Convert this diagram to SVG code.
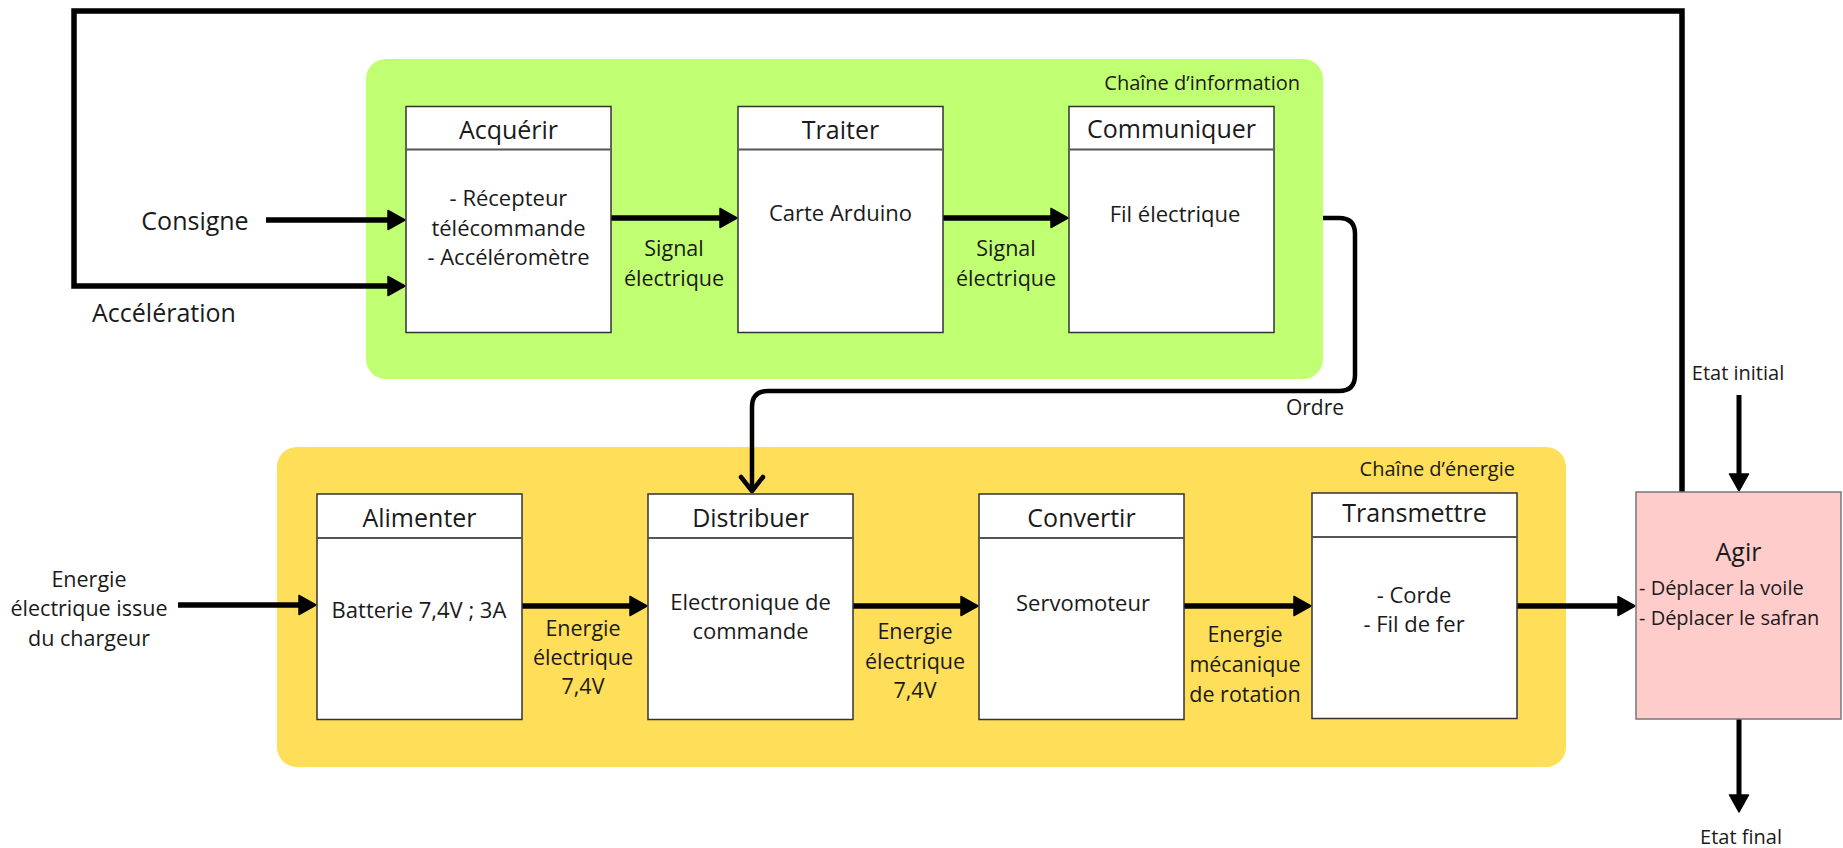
<svg xmlns="http://www.w3.org/2000/svg" width="1843" height="848" viewBox="0 0 1843 848">
  <style>
    text { font-family: "Open Sans", "DejaVu Sans", sans-serif; fill: #1a1a1a; dominant-baseline: central; text-anchor: middle; }
    .title { font-size: 25px; }
    .body { font-size: 22px; }
    .lbl { font-size: 21.5px; }
    .small { font-size: 20px; }
    .big { font-size: 25px; }
    .box { fill: #ffffff; stroke: #333333; stroke-width: 1.5; }
    .div { stroke: #555555; stroke-width: 2; }
    .flow { fill: none; stroke: #000000; stroke-width: 5.5; marker-end: url(#head); }
    .thin { fill: none; stroke: #000000; stroke-width: 4.5; }
  </style>
  <defs>
    <marker id="head" markerUnits="userSpaceOnUse" viewBox="0 0 19 22" markerWidth="19" markerHeight="22" refX="1" refY="11" orient="auto">
      <path d="M1,1.5 L18,11 L1,20.5 Z" fill="#000000" stroke="#000000" stroke-width="1.5" stroke-linejoin="round"/>
    </marker>
    <marker id="chevron" markerUnits="userSpaceOnUse" viewBox="-18 -15 22 30" markerWidth="22" markerHeight="30" refX="0" refY="0" orient="auto">
      <path d="M-14,-11 L0,0 L-14,11" fill="none" stroke="#000000" stroke-width="4.5" stroke-linecap="round" stroke-linejoin="round"/>
    </marker>
  </defs>

  <rect width="1843" height="848" fill="#ffffff"/>

  <!-- chain containers -->
  <g id="chaine-information">
    <rect x="366" y="59" width="957" height="320" rx="20" fill="#c1ff72"/>
    <text class="small" x="1300" y="82" style="text-anchor:end">Chaîne d’information</text>
  </g>
  <g id="chaine-energie">
    <rect x="277" y="447" width="1289" height="320" rx="20" fill="#ffde59"/>
    <text class="small" x="1515" y="468" style="text-anchor:end">Chaîne d’énergie</text>
  </g>

  <!-- connectors -->
  <g id="connectors">
    <!-- feedback loop from Agir back to Acquérir -->
    <path class="flow" d="M1682,492 V11 H74 V286 H388"/>
    <path class="flow" d="M266,220 H388"/>
    <path class="flow" d="M611,218 H720"/>
    <path class="flow" d="M943,218 H1051"/>
    <!-- order from the information chain to Distribuer -->
    <path class="thin" d="M1323,218 H1339 Q1355,218 1355,234 V375 Q1355,391 1339,391 H768 Q752,391 752,407 V491" marker-end="url(#chevron)"/>
    <path class="flow" d="M178,605 H299"/>
    <path class="flow" d="M522,606 H630"/>
    <path class="flow" d="M853,606 H961"/>
    <path class="flow" d="M1184,606 H1294"/>
    <path class="flow" d="M1517,606 H1618"/>
    <path class="flow" d="M1739,395 V474" style="stroke-width:5"/>
    <path class="flow" d="M1739,719 V795" style="stroke-width:5"/>
  </g>

  <!-- free labels -->
  <g id="labels">
    <text class="big" x="195" y="220">Consigne</text>
    <text class="big" x="164" y="312">Accélération</text>
    <text class="lbl" x="674" y="247">Signal</text>
    <text class="lbl" x="674" y="277">électrique</text>
    <text class="lbl" x="1006" y="247">Signal</text>
    <text class="lbl" x="1006" y="277">électrique</text>
    <text class="small" x="1315" y="407" style="font-size:21px">Ordre</text>
    <text class="lbl" x="89" y="578">Energie</text>
    <text class="lbl" x="89" y="607">électrique issue</text>
    <text class="lbl" x="89" y="637">du chargeur</text>
    <text class="lbl" x="583" y="627">Energie</text>
    <text class="lbl" x="583" y="656">électrique</text>
    <text class="lbl" x="583" y="685">7,4V</text>
    <text class="lbl" x="915" y="630">Energie</text>
    <text class="lbl" x="915" y="660">électrique</text>
    <text class="lbl" x="915" y="689">7,4V</text>
    <text class="lbl" x="1245" y="633">Energie</text>
    <text class="lbl" x="1245" y="663">mécanique</text>
    <text class="lbl" x="1245" y="693">de rotation</text>
    <text class="small" x="1738" y="372">Etat initial</text>
    <text class="small" x="1741" y="836">Etat final</text>
  </g>

  <!-- information chain blocks -->
  <g id="acquerir">
    <rect class="box" x="406" y="106.5" width="205" height="226"/>
    <line class="div" x1="406" y1="149.5" x2="611" y2="149.5"/>
    <text class="title" x="508.5" y="129">Acquérir</text>
    <text class="body" x="508.5" y="197">- Récepteur</text>
    <text class="body" x="508.5" y="226.5">télécommande</text>
    <text class="body" x="508.5" y="256">- Accéléromètre</text>
  </g>
  <g id="traiter">
    <rect class="box" x="738" y="106.5" width="205" height="226"/>
    <line class="div" x1="738" y1="149.5" x2="943" y2="149.5"/>
    <text class="title" x="840.5" y="129">Traiter</text>
    <text class="body" x="840.5" y="212">Carte Arduino</text>
  </g>
  <g id="communiquer">
    <rect class="box" x="1069" y="106.5" width="205" height="226"/>
    <line class="div" x1="1069" y1="149.5" x2="1274" y2="149.5"/>
    <text class="title" x="1171.5" y="128">Communiquer</text>
    <text class="body" x="1175" y="213">Fil électrique</text>
  </g>

  <!-- energy chain blocks -->
  <g id="alimenter">
    <rect class="box" x="317" y="494" width="205" height="225.5"/>
    <line class="div" x1="317" y1="538" x2="522" y2="538"/>
    <text class="title" x="419.5" y="517">Alimenter</text>
    <text class="body" x="419" y="609">Batterie 7,4V ; 3A</text>
  </g>
  <g id="distribuer">
    <rect class="box" x="648" y="494" width="205" height="225.5"/>
    <line class="div" x1="648" y1="538" x2="853" y2="538"/>
    <text class="title" x="750.5" y="517">Distribuer</text>
    <text class="body" x="750.5" y="601">Electronique de</text>
    <text class="body" x="750.5" y="630">commande</text>
  </g>
  <g id="convertir">
    <rect class="box" x="979" y="494" width="205" height="225.5"/>
    <line class="div" x1="979" y1="538" x2="1184" y2="538"/>
    <text class="title" x="1081.5" y="517">Convertir</text>
    <text class="body" x="1083" y="602">Servomoteur</text>
  </g>
  <g id="transmettre">
    <rect class="box" x="1312" y="493" width="205" height="225.5"/>
    <line class="div" x1="1312" y1="537" x2="1517" y2="537"/>
    <text class="title" x="1414.5" y="512">Transmettre</text>
    <text class="body" x="1414" y="594">- Corde</text>
    <text class="body" x="1414" y="623">- Fil de fer</text>
  </g>

  <!-- actuator block -->
  <g id="agir">
    <rect x="1636" y="492" width="205" height="227" fill="#ffcccc" stroke="#777777" stroke-width="1.5"/>
    <text class="title" x="1738.5" y="551">Agir</text>
    <text class="body" x="1639" y="587" style="text-anchor:start;font-size:20px">- Déplacer la voile</text>
    <text class="body" x="1639" y="617" style="text-anchor:start;font-size:20px">- Déplacer le safran</text>
  </g>
</svg>
